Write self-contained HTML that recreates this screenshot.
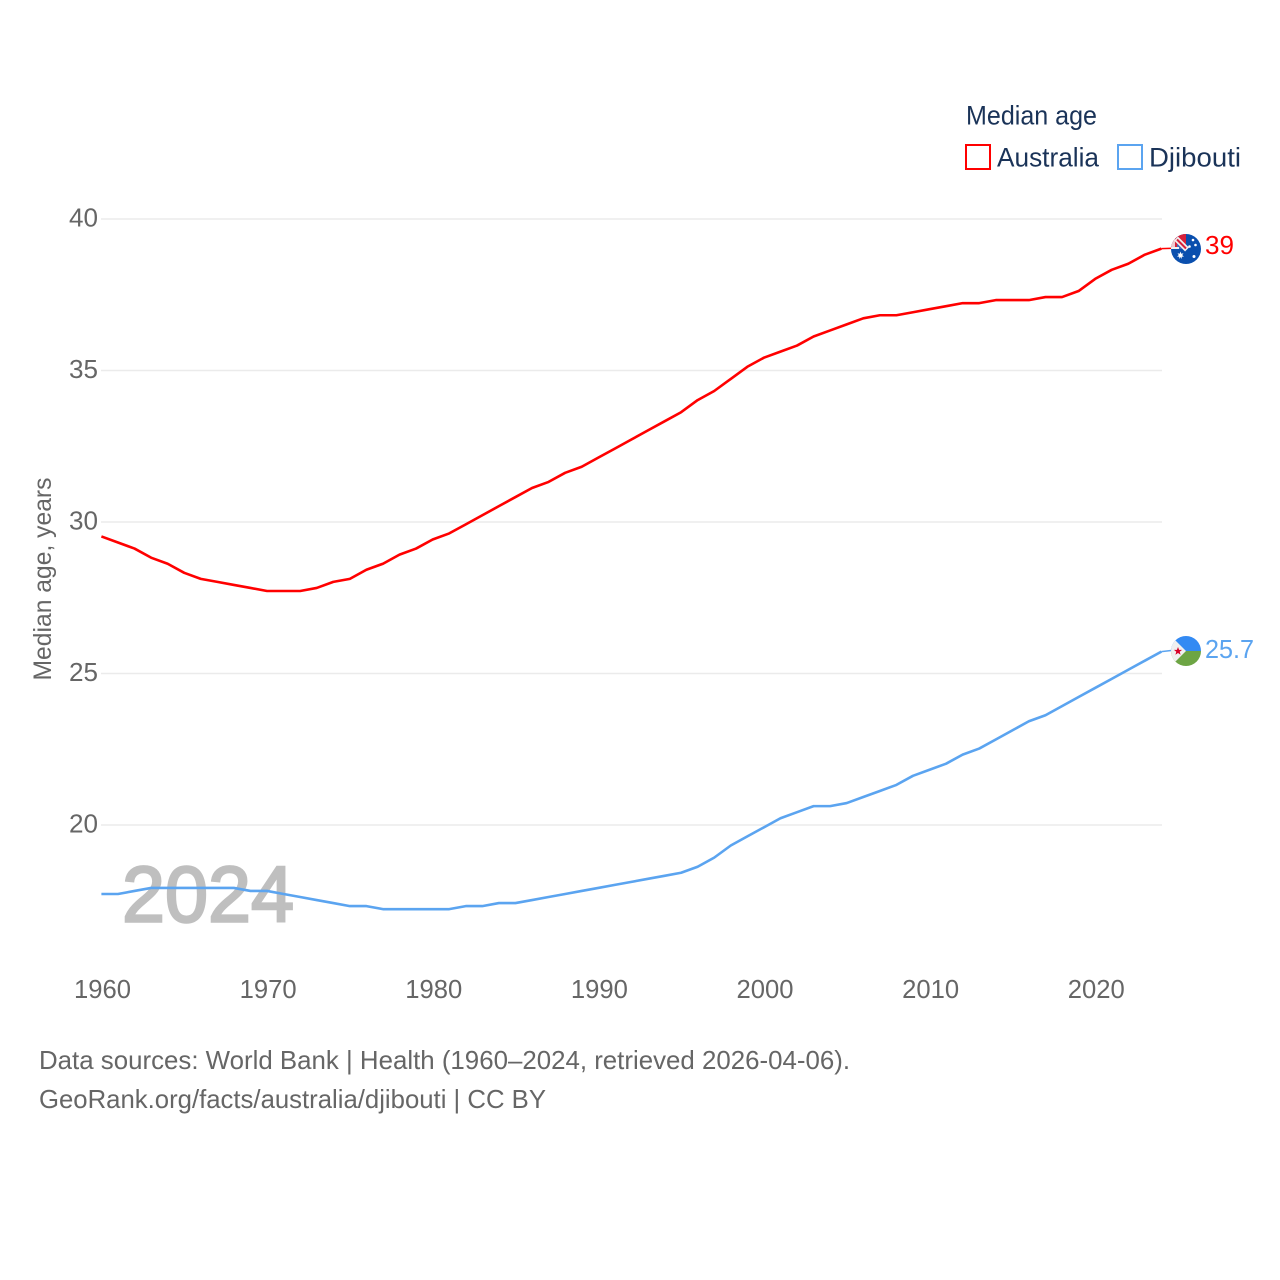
<!DOCTYPE html>
<html lang="en">
<head>
<meta charset="utf-8">
<title>Median age: Australia and Djibouti</title>
<style>
html,body{margin:0;padding:0;background:#fff;width:1280px;height:1280px;overflow:hidden}
svg{display:block}
text{font-family:"Liberation Sans",sans-serif}
.tick{font-size:26px;fill:#666}
.src{font-size:26px;fill:#666}
.leg{font-size:27px;fill:#1a3358}
</style>
</head>
<body>
<svg id="chart" width="1280" height="1280" viewBox="0 0 1280 1280" xmlns="http://www.w3.org/2000/svg">
  <rect width="1280" height="1280" fill="#fff"/>
  <g id="grid"></g>
  <g id="yticks"></g>
  <g id="xticks"></g>
  <text x="0" y="0" transform="translate(51,579) rotate(-90)" text-anchor="middle" font-size="25" fill="#666" textLength="203" lengthAdjust="spacingAndGlyphs">Median age, years</text>
  <text x="122" y="921.5" font-size="79" font-weight="400" fill="#bfbfbf" stroke="#bfbfbf" stroke-width="2.4" textLength="172" lengthAdjust="spacingAndGlyphs">2024</text>
  <g id="series" transform="translate(-0.6,-0.7)"></g>

  <g id="flag-australia">
    <clipPath id="clip-au"><circle cx="1186" cy="249" r="15"/></clipPath>
    <g clip-path="url(#clip-au)">
      <rect x="1171" y="234" width="30" height="30" fill="#0a4fae"/>
      <rect x="1171" y="234" width="15" height="15" fill="#d8203a"/>
      <rect x="1171" y="234" width="4" height="15" fill="#efc9cf"/>
      <path d="M1176 238.5L1187 249.5" stroke="#f0f0f0" stroke-width="5.5"/>
      <path d="M1177 239.5L1186 248.5" stroke="#d8203a" stroke-width="2"/>
      <path d="M1177 243.5L1177 249L1182.5 249Z" fill="#3d6cc0"/>
      <rect x="1171" y="247" width="8" height="2" fill="#f0f0f0"/>
      <path d="M1180.5 251.5l.8 2.2 2.2-.5-1.3 1.9 1.8 1.4-2.3.2 .1 2.3-1.3-1.9-1.3 1.9 .1-2.3-2.3-.2 1.8-1.4-1.3-1.9 2.2.5z" fill="#fff"/>
      <circle cx="1189.5" cy="246.5" r="1.3" fill="#fff"/>
      <circle cx="1195.5" cy="245" r="1.3" fill="#fff"/>
      <circle cx="1193" cy="240" r="1.3" fill="#fff"/>
      <circle cx="1194" cy="256.5" r="1.5" fill="#fff"/>
    </g>
  </g>
  <text x="1205" y="254" font-size="26" fill="#ff0000" textLength="29" lengthAdjust="spacingAndGlyphs">39</text>

  <g id="flag-djibouti">
    <clipPath id="clip-dj"><circle cx="1186" cy="651" r="15"/></clipPath>
    <g clip-path="url(#clip-dj)">
      <rect x="1171" y="636" width="30" height="15" fill="#338af3"/>
      <rect x="1171" y="651" width="30" height="15" fill="#6da544"/>
      <path d="M1171 636L1186 651L1171 666Z" fill="#f0f0f0"/>
      <path d="M1178 647l1.1 2.9h3l-2.4 1.9 .9 3-2.6-1.8-2.6 1.8 .9-3-2.4-1.9h3z" fill="#d80027"/>
    </g>
  </g>
  <text x="1205" y="658" font-size="26" fill="#5ba4f0" textLength="49" lengthAdjust="spacingAndGlyphs">25.7</text>

  <g>
    <text x="966" y="124.5" class="leg" textLength="131" lengthAdjust="spacingAndGlyphs">Median age</text>
    <g>
      <rect x="966" y="145" width="24" height="24" fill="none" stroke="#ff0000" stroke-width="2"/>
      <text x="997" y="166.5" class="leg" textLength="102" lengthAdjust="spacingAndGlyphs">Australia</text>
    </g>
    <g>
      <rect x="1118" y="145" width="24" height="24" fill="none" stroke="#5ba4f0" stroke-width="2"/>
      <text x="1149" y="166.5" class="leg" textLength="92" lengthAdjust="spacingAndGlyphs">Djibouti</text>
    </g>
  </g>

  <text x="39" y="1069" class="src" textLength="811" lengthAdjust="spacingAndGlyphs">Data sources: World Bank | Health (1960–2024, retrieved 2026-04-06).</text>
  <text x="39" y="1108" class="src" textLength="507" lengthAdjust="spacingAndGlyphs">GeoRank.org/facts/australia/djibouti | CC BY</text>
</svg>
<script>
const firstYear = 1960;
const australiaValues = [29.5,29.3,29.1,28.8,28.6,28.3,28.1,28.0,27.9,27.8,27.7,27.7,27.7,27.8,28.0,28.1,28.4,28.6,28.9,29.1,29.4,29.6,29.9,30.2,30.5,30.8,31.1,31.3,31.6,31.8,32.1,32.4,32.7,33.0,33.3,33.6,34.0,34.3,34.7,35.1,35.4,35.6,35.8,36.1,36.3,36.5,36.7,36.8,36.8,36.9,37.0,37.1,37.2,37.2,37.3,37.3,37.3,37.4,37.4,37.6,38.0,38.3,38.5,38.8,39.0];
const djiboutiValues = [17.7,17.7,17.8,17.9,17.9,17.9,17.9,17.9,17.9,17.8,17.8,17.7,17.6,17.5,17.4,17.3,17.3,17.2,17.2,17.2,17.2,17.2,17.3,17.3,17.4,17.4,17.5,17.6,17.7,17.8,17.9,18.0,18.1,18.2,18.3,18.4,18.6,18.9,19.3,19.6,19.9,20.2,20.4,20.6,20.6,20.7,20.9,21.1,21.3,21.6,21.8,22.0,22.3,22.5,22.8,23.1,23.4,23.6,23.9,24.2,24.5,24.8,25.1,25.4,25.7];
const yTickValues = [20,25,30,35,40];
const xTickValues = [1960,1970,1980,1990,2000,2010,2020];

const NS = 'http://www.w3.org/2000/svg';
function xScale(year){ return 102 + (year - 1960) * (1162 - 102) / 64; }
function yScale(v){ return 825 - (v - 20) * (825 - 219) / 20; }

const grid = document.getElementById('grid');
const yticks = document.getElementById('yticks');
const xticks = document.getElementById('xticks');
const series = document.getElementById('series');

yTickValues.forEach(function(v){
  const line = document.createElementNS(NS,'line');
  line.setAttribute('x1',101);
  line.setAttribute('x2',1162);
  line.setAttribute('y1',yScale(v));
  line.setAttribute('y2',yScale(v));
  line.setAttribute('stroke','#ebebeb');
  line.setAttribute('stroke-width','1.5');
  
  
  grid.appendChild(line);
  const t = document.createElementNS(NS,'text');
  t.setAttribute('x',98);
  t.setAttribute('y',yScale(v)+7.5);
  t.setAttribute('text-anchor','end');
  t.setAttribute('class','tick');
  t.setAttribute('textLength',29);
  t.setAttribute('lengthAdjust','spacingAndGlyphs');
  t.textContent = v;
  
  
  yticks.appendChild(t);
});

xTickValues.forEach(function(y){
  const t = document.createElementNS(NS,'text');
  t.setAttribute('x',xScale(y)+0.5);
  t.setAttribute('y',998);
  t.setAttribute('text-anchor','middle');
  t.setAttribute('class','tick');
  t.setAttribute('textLength',57);
  t.setAttribute('lengthAdjust','spacingAndGlyphs');
  t.textContent = y;
  
  
  xticks.appendChild(t);
});

function drawLine(values, color, name, iconY){
  const pts = values.map(function(v,i){ return xScale(firstYear+i).toFixed(2)+','+yScale(v).toFixed(2); });
  const p = document.createElementNS(NS,'polyline');
  p.setAttribute('points',pts.join(' '));
  p.setAttribute('fill','none');
  p.setAttribute('stroke',color);
  p.setAttribute('stroke-width','2.6');
  p.setAttribute('stroke-linejoin','round');
  
  
  series.appendChild(p);
  const c = document.createElementNS(NS,'line');
  const lastY = yScale(values[values.length-1]);
  c.setAttribute('x1',xScale(firstYear+values.length-1));
  c.setAttribute('x2',1174);
  c.setAttribute('y1',lastY);
  c.setAttribute('y2',iconY);
  c.setAttribute('stroke',color);
  c.setAttribute('stroke-width','1.5');
  
  
  series.appendChild(c);
}
drawLine(australiaValues,'#ff0000','australia-line',249);
drawLine(djiboutiValues,'#5ba4f0','djibouti-line',651);
</script>
</body>
</html>
